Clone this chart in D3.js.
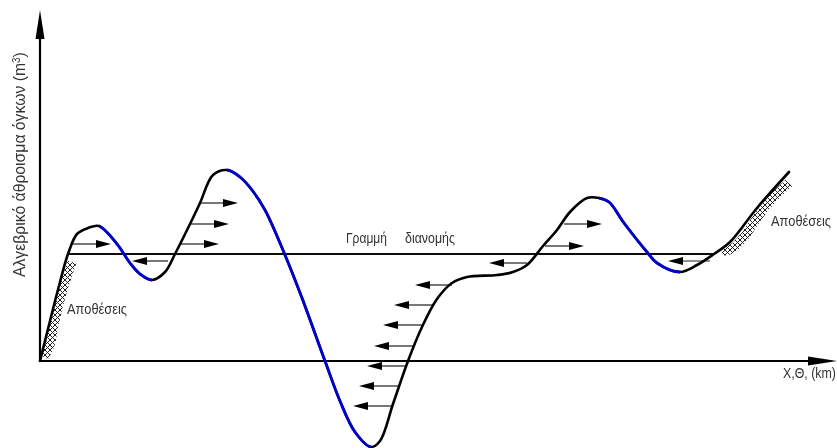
<!DOCTYPE html>
<html>
<head>
	<title>Γραμμή διανομής</title>
	<meta charset="utf-8">
	<script src="https://d3js.org/d3.v7.min.js"></script>
	<style>
		html, body { margin: 0; padding: 0; background: #fff; overflow: hidden; }
		text { font-family: "Liberation Sans", sans-serif; fill: #333; font-size: 14.5px; }
	</style>
</head>
<body>
<div id="my_dataviz"></div>
<script>
// mass curve: [distance, volume]
var mass_curve = [
	[0,0],[10,40],[20,79],[28,107],[37,127],[48,133],[59,135],
	[77,117],[90,98],[100,87],[112,81],
	[125,89],[135,107],[150,137],[160,158],[173,186],[187,191],
	[200,184],[212,171],[225,151],[245,106],[262,63],[285,0],[300,-40],[315,-71],[331,-86],
	[340,-80],[353,-43],[368,0],[382,34],[397,62],[412,78],[427,84],[457,86],[473,89],[487,96],[503,115],[517,131],[530,149],[547,163],[559,163],
	[569,159],[584,138],[607,109],[617,98],[640,89],
	[657,96],[674,107],[690,119],[717,153],[749,189]
];
// distance ranges where the curve falls (drawn blue)
var falling_parts = [[59,112],[187,331],[559,640]];

var distribution_line = [28,674,107];

// arrows: [from, to, volume]
var arrows = [
	[32,71,117],[141,179,117],[150,189,137],[160,198,158],[524,562,137],[505,544,115],
	[128,92,100],[487,449,98],[412,375,76],[393,354,56],[383,343,36],[373,334,15],
	[367,327,-5],[358,319,-25],[352,313,-45],[670,628,100]
];

var deposits_left = [[4,4],[10,16],[14,36],[20,61],[26,81],[32,99]];
var deposits_right = [[682,110],[690,111],[704,124],[717,143],[734,164],[749,178]];

var width = 837, height = 448;

var x = d3.scaleLinear().domain([0,800]).range([40,840]);
var y = d3.scaleLinear().domain([-90,340]).range([451,21]);

var svg = d3.select("#my_dataviz").append("svg")
	.attr("width", width).attr("height", height);

var defs = svg.append("defs");
defs.append("filter").attr("id", "soft")
	.attr("filterUnits", "userSpaceOnUse")
	.attr("x", 0).attr("y", 0).attr("width", width).attr("height", height)
	.append("feGaussianBlur").attr("stdDeviation", 0.5);
var hatch = defs.append("pattern").attr("id", "hatch")
	.attr("patternUnits", "userSpaceOnUse").attr("width", 5).attr("height", 5);
hatch.append("path").attr("d", "M0,0L5,5M5,0L0,5").attr("stroke", "#222").attr("stroke-width", 1);

falling_parts.forEach(function(p, i) {
	defs.append("clipPath").attr("id", "fall" + i).append("rect")
		.attr("x", x(p[0])).attr("width", x(p[1]) - x(p[0]))
		.attr("y", 0).attr("height", height);
});

var g = svg.append("g").attr("filter", "url(#soft)");

var curve = d3.line().x(function(d) { return x(d[0]); }).y(function(d) { return y(d[1]); })
	.curve(d3.curveCatmullRom.alpha(0.5));

// deposit hatching
g.append("path").attr("d", curve(deposits_left)).attr("fill", "none")
	.attr("stroke", "url(#hatch)").attr("stroke-width", 9);
g.append("path").attr("d", curve(deposits_right)).attr("fill", "none")
	.attr("stroke", "url(#hatch)").attr("stroke-width", 9);

// axes
g.append("line").attr("x1", x(0)).attr("x2", x(0)).attr("y1", y(0)).attr("y2", 36)
	.attr("stroke", "#000").attr("stroke-width", 2.2);
g.append("line").attr("x1", x(0) - 1).attr("x2", 812).attr("y1", y(0)).attr("y2", y(0))
	.attr("stroke", "#000").attr("stroke-width", 2.2);
g.append("path").attr("d", "M" + x(0) + ",10L" + (x(0) + 4.5) + ",39L" + (x(0) - 4.5) + ",39Z");
g.append("path").attr("d", "M837," + y(0) + "L808," + (y(0) - 4.5) + "L808," + (y(0) + 4.5) + "Z");

// distribution line
g.append("line")
	.attr("x1", x(distribution_line[0])).attr("x2", x(distribution_line[1]))
	.attr("y1", y(distribution_line[2])).attr("y2", y(distribution_line[2]))
	.attr("stroke", "#111").attr("stroke-width", 2);

// arrows
arrows.forEach(function(a) {
	var dir = a[1] > a[0] ? 1 : -1;
	var tip = x(a[1]), yy = y(a[2]);
	g.append("line").attr("x1", x(a[0])).attr("x2", tip - dir * 8).attr("y1", yy).attr("y2", yy)
		.attr("stroke", "#222").attr("stroke-width", 1.2);
	g.append("path").attr("d", "M" + tip + "," + yy + "L" + (tip - dir * 15) + "," + (yy - 4) + "L" + (tip - dir * 15) + "," + (yy + 4) + "Z");
});

// mass curve, black with the falling parts over it in blue
g.append("path").attr("d", curve(mass_curve)).attr("fill", "none")
	.attr("stroke", "#000").attr("stroke-width", 2.6).attr("stroke-linecap", "round");
falling_parts.forEach(function(p, i) {
	g.append("path").attr("d", curve(mass_curve)).attr("fill", "none")
		.attr("clip-path", "url(#fall" + i + ")")
		.attr("stroke", "#0000d0").attr("stroke-width", 2.8);
});

// texts, squeezed sideways to the narrow lettering of the drawing
function label(px, py, str, len) {
	var t = g.append("text").text(str);
	var k = len / t.node().getComputedTextLength();
	t.attr("transform", "translate(" + px + "," + py + ") scale(" + k + ",1)");
}
var ylabel = g.append("text").style("font-size", "16px")
	.html('Αλγεβρικό άθροισμα όγκων (m<tspan dy="-5" style="font-size:10px">3</tspan><tspan dy="5">)</tspan>');
ylabel.attr("transform", "translate(25,277) rotate(-90) scale(" + (225 / ylabel.node().getComputedTextLength()) + ",1)");
label(346, 243, "Γραμμή", 41);
label(405, 243, "διανομής", 50);
label(67, 314, "Αποθέσεις", 60);
label(771, 226, "Αποθέσεις", 60);
label(783, 378, "Χ,Θ, (km)", 53);
</script>
</body>
</html>
